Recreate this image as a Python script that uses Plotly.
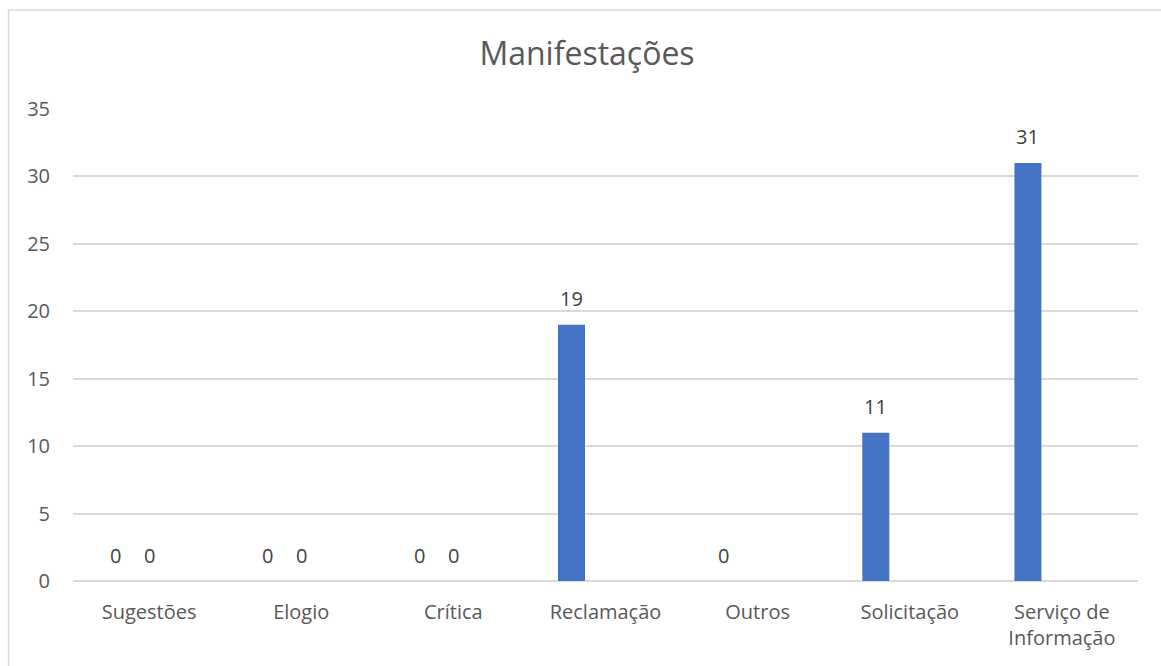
import plotly.graph_objects as go

categories = ["Sugestões", "Elogio", "Crítica", "Reclamação", "Outros", "Solicitação", "Serviço de<br>Informação"]
series_a = [0, 0, 0, 19, 0, 11, 31]
series_b = [0, 0, 0, None, None, None, None]
y_ticks = [0, 5, 10, 15, 20, 25, 30, 35]

BAR_COLOR = "#4472C4"
TEXT_COLOR = "#595959"
GRID_COLOR = "#D9D9D9"
FONT = "Open Sans"

W, H = 1161, 666
ML, MR, MT, MB = 73, 23, 109, 85
plot_w = W - ML - MR
plot_h = H - MT - MB
cat_px = plot_w / len(categories)

bar_w = 27 / cat_px
offsets = [(-34 - 13.5) / cat_px, (0 - 13.5) / cat_px]

fig = go.Figure()
for vals, off in zip([series_a, series_b], offsets):
    fig.add_trace(go.Bar(
        x=categories, y=vals, offset=off, width=bar_w,
        marker=dict(color=BAR_COLOR, line=dict(width=0)),
        showlegend=False, hoverinfo="x+y",
    ))

annotations = []
for vals, off in zip([series_a, series_b], offsets):
    for i, v in enumerate(vals):
        if v is None:
            continue
        annotations.append(dict(
            x=i + off + bar_w / 2, y=v, xref="x", yref="y",
            text=str(v), showarrow=False, yanchor="middle", yshift=26,
            font=dict(family=FONT, size=20, color="#404040"),
        ))

# chart border (Excel-style chart area outline)
fig.add_shape(type="rect", xref="paper", yref="paper",
              x0=(8.5 - ML) / plot_w, x1=(1175 - ML) / plot_w,
              y0=(MT + plot_h - 690) / plot_h, y1=(MT + plot_h - 10) / plot_h,
              line=dict(color=GRID_COLOR, width=1.5), fillcolor="rgba(0,0,0,0)", layer="below")

fig.update_layout(
    width=W, height=H,
    margin=dict(l=ML, r=MR, t=MT, b=MB),
    paper_bgcolor="white", plot_bgcolor="white",
    title=dict(text="Manifestações", x=(587 - ML) / plot_w, xref="paper", xanchor="center",
               y=1 - 54 / H, yanchor="middle",
               font=dict(family=FONT, size=32, color=TEXT_COLOR)),
    annotations=annotations,
    font=dict(family=FONT, color=TEXT_COLOR),
    xaxis=dict(type="category", range=[-0.5, len(categories) - 0.5],
               showgrid=False, showline=False, zeroline=False, ticks="",
               tickfont=dict(family=FONT, size=20, color=TEXT_COLOR),
               ticklabelstandoff=17),
    yaxis=dict(range=[0, 35], tickvals=y_ticks, showgrid=True, gridcolor=GRID_COLOR, gridwidth=1.5,
               zeroline=True, zerolinecolor=GRID_COLOR, zerolinewidth=1.5,
               showline=False, ticks="",
               tickfont=dict(family=FONT, size=20, color=TEXT_COLOR),
               ticklabelstandoff=22),
)

fig.write_html("out.html", config={"displayModeBar": False},
               post_script="document.body.style.margin='0';")
